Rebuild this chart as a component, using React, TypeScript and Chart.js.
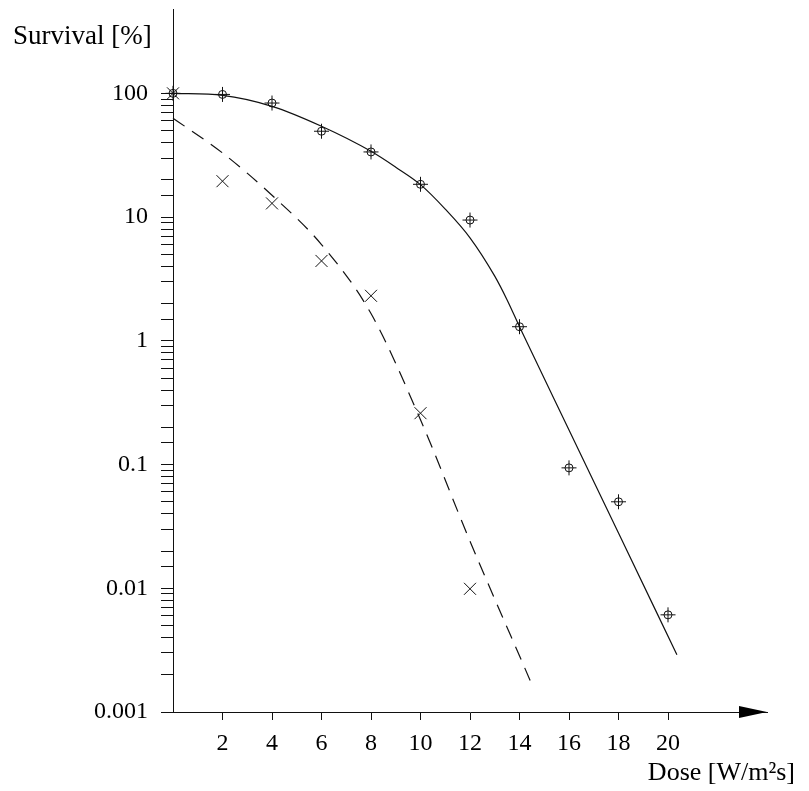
import React, { useEffect, useRef } from "react";
import { Chart, registerables } from "chart.js";

Chart.register(...registerables);

// Measured survival points (circle-cross markers)
const doseA = [0, 2, 4, 6, 8, 10, 12, 14, 16, 18, 20];
const survA = [100, 98, 83.5, 49.4, 33.6, 18.4, 9.46, 1.3, 0.094, 0.05, 0.0061];

// Measured survival points (x markers)
const doseB = [0, 2, 4, 6, 8, 10, 12];
const survB = [100, 19.5, 12.9, 4.42, 2.31, 0.26, 0.0099];

// Solid fitted curve
const fitDoseA = [0, 2, 4, 6, 8, 9, 10, 11, 12, 13, 13.5, 14, 16, 18, 20.36];
const fitSurvA = [100, 96.3, 78.5, 54.2, 34, 25.3, 18.3, 11.6, 6.8, 3.33, 2.14, 1.3, 0.19, 0.028, 0.0029];

// Dashed fitted curve
const fitDoseB = [0, 2, 4, 6, 8, 10, 12, 14.43];
const fitSurvB = [63, 33, 15, 6.0, 1.66, 0.23, 0.024, 0.0018];

const xTicks = [2, 4, 6, 8, 10, 12, 14, 16, 18, 20];
const yDecades = [0.001, 0.01, 0.1, 1, 10, 100];
const yTickLabels = ["0.001", "0.01", "0.1", "1", "10", "100"];

const xTitle = "Dose [W/m²s]";
const yTitle = "Survival [%]";

const FONT = "'Liberation Serif', 'Times New Roman', serif";
const INK = "#111";

const pts = (xs: number[], ys: number[]) => xs.map((x, i) => ({ x, y: ys[i] }));

const decorPlugin = {
  id: "decor",
  afterDraw(chart: any) {
    const { ctx, chartArea } = chart;
    ctx.save();
    // arrow head at end of x axis
    const tipX = chartArea.right;
    const y = chartArea.bottom;
    ctx.fillStyle = "#000";
    ctx.beginPath();
    ctx.moveTo(tipX, y);
    ctx.lineTo(tipX - 28, y - 6);
    ctx.lineTo(tipX - 28, y + 6);
    ctx.closePath();
    ctx.fill();
    // titles
    ctx.fillStyle = "#000";
    ctx.textBaseline = "alphabetic";
    ctx.textAlign = "left";
    ctx.font = `27px ${FONT}`;
    ctx.fillText(yTitle, chartArea.left - 160, chartArea.top + 34);
    ctx.textAlign = "right";
    ctx.font = `26px ${FONT}`;
    ctx.fillText(xTitle, chartArea.right + 28, chartArea.bottom + 68);
    ctx.restore();
  },
};

export default function App() {
  const ref = useRef<HTMLCanvasElement | null>(null);

  useEffect(() => {
    if (!ref.current) return;
    const chart = new Chart(ref.current, {
      type: "line",
      data: {
        datasets: [
          {
            data: pts(fitDoseA, fitSurvA),
            borderColor: INK,
            borderWidth: 1.2,
            pointRadius: 0,
            cubicInterpolationMode: "monotone",
            fill: false,
            clip: false,
          } as any,
          {
            data: pts(fitDoseB, fitSurvB),
            borderColor: INK,
            borderWidth: 1.2,
            borderDash: [14, 9],
            pointRadius: 0,
            cubicInterpolationMode: "monotone",
            fill: false,
            clip: false,
          } as any,
          {
            data: pts(doseA, survA),
            showLine: false,
            pointStyle: "circle",
            pointRadius: 4,
            pointBorderWidth: 1,
            pointBorderColor: INK,
            pointBackgroundColor: "rgba(0,0,0,0)",
            clip: false,
          } as any,
          {
            data: pts(doseA, survA),
            showLine: false,
            pointStyle: "cross",
            pointRadius: 7.5,
            pointBorderWidth: 1,
            pointBorderColor: INK,
            clip: false,
          } as any,
          {
            data: pts(doseB, survB),
            showLine: false,
            pointStyle: "crossRot",
            pointRadius: 8.5,
            pointBorderWidth: 1,
            pointBorderColor: INK,
            clip: false,
          } as any,
        ],
      },
      options: {
        animation: false,
        responsive: false,
        events: [],
        layout: { padding: { top: 8, right: 42, left: 0, bottom: 0 } },
        plugins: { legend: { display: false }, tooltip: { enabled: false }, title: { display: false } },
        scales: {
          x: {
            type: "linear",
            min: 0,
            max: 24,
            afterBuildTicks: (scale: any) => {
              scale.ticks = xTicks.map((v) => ({ value: v }));
            },
            afterFit: (scale: any) => {
              scale.height = 79;
              scale.paddingLeft = 0;
              scale.paddingRight = 0;
            },
            grid: { drawOnChartArea: false, drawTicks: true, tickLength: 8, color: INK, lineWidth: 1 },
            border: { display: true, color: INK, width: 1 },
            ticks: {
              autoSkip: false,
              maxRotation: 0,
              padding: 9,
              color: "#000",
              font: { family: FONT, size: 24 },
              callback: (v: any) => String(v),
            },
          },
          y: {
            type: "logarithmic",
            min: 0.001,
            max: 476,
            afterBuildTicks: (scale: any) => {
              scale.ticks = scale.ticks.filter((t: any) => t.value <= 100.0001);
            },
            afterFit: (scale: any) => {
              scale.width = 173;
              scale.paddingTop = 0;
              scale.paddingBottom = 0;
            },
            grid: { drawOnChartArea: false, drawTicks: true, tickLength: 12, color: INK, lineWidth: 1 },
            border: { display: true, color: INK, width: 1 },
            ticks: {
              autoSkip: false,
              padding: 13,
              color: "#000",
              font: { family: FONT, size: 24 },
              callback: (v: any) => {
                const idx = yDecades.findIndex((d) => Math.abs(Number(v) - d) / d < 1e-6);
                return idx >= 0 ? yTickLabels[idx] : "";
              },
            },
          },
        },
      } as any,
      plugins: [decorPlugin],
    });
    return () => chart.destroy();
  }, []);

  return (
    <div style={{ position: "absolute", left: 0, top: 0, width: 809, height: 791, background: "#fff" }}>
      <canvas ref={ref} width={809} height={791} style={{ display: "block" }} />
    </div>
  );
}
